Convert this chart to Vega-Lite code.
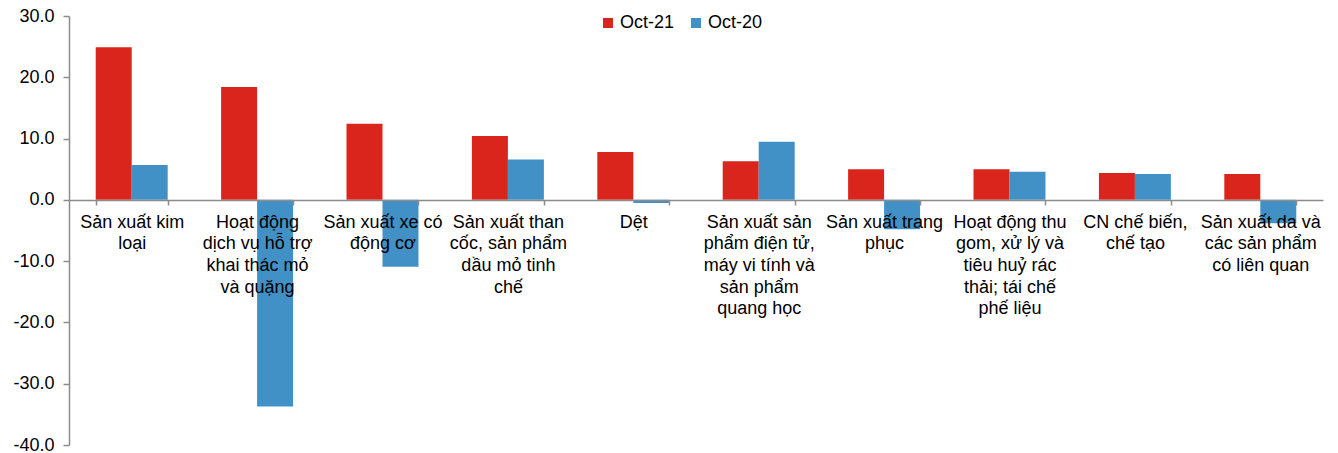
{
  "$schema": "https://vega.github.io/schema/vega-lite/v6.json",
  "width": 1254,
  "height": 429,
  "autosize": {"type": "none"},
  "padding": {"left": 69, "top": 16, "right": 15, "bottom": 8},
  "background": "white",
  "config": {
    "view": {"stroke": null},
    "font": "Liberation Sans",
    "axis": {"grid": false, "domainColor": "#8c8c8c", "tickColor": "#8c8c8c", "domainWidth": 1.5, "tickWidth": 1.5, "labelColor": "#000000", "labelFontSize": 18, "labelFont": "Liberation Sans", "title": null}
  },
  "data": {
    "values": [
      {"industry": "Sản xuất kim\nloại", "period": "Oct-21", "growth": 24.9},
      {"industry": "Sản xuất kim\nloại", "period": "Oct-20", "growth": 5.7},
      {"industry": "Hoạt động\ndịch vụ hỗ trợ\nkhai thác mỏ\nvà quặng", "period": "Oct-21", "growth": 18.4},
      {"industry": "Hoạt động\ndịch vụ hỗ trợ\nkhai thác mỏ\nvà quặng", "period": "Oct-20", "growth": -33.7},
      {"industry": "Sản xuất xe có\nđộng cơ", "period": "Oct-21", "growth": 12.4},
      {"industry": "Sản xuất xe có\nđộng cơ", "period": "Oct-20", "growth": -10.9},
      {"industry": "Sản xuất than\ncốc, sản phẩm\ndầu mỏ tinh\nchế", "period": "Oct-21", "growth": 10.4},
      {"industry": "Sản xuất than\ncốc, sản phẩm\ndầu mỏ tinh\nchế", "period": "Oct-20", "growth": 6.6},
      {"industry": "Dệt", "period": "Oct-21", "growth": 7.8},
      {"industry": "Dệt", "period": "Oct-20", "growth": -0.5},
      {"industry": "Sản xuất sản\nphẩm điện tử,\nmáy vi tính và\nsản phẩm\nquang học", "period": "Oct-21", "growth": 6.3},
      {"industry": "Sản xuất sản\nphẩm điện tử,\nmáy vi tính và\nsản phẩm\nquang học", "period": "Oct-20", "growth": 9.5},
      {"industry": "Sản xuất trang\nphục", "period": "Oct-21", "growth": 5.0},
      {"industry": "Sản xuất trang\nphục", "period": "Oct-20", "growth": -4.8},
      {"industry": "Hoạt động thu\ngom, xử lý và\ntiêu huỷ rác\nthải; tái chế\nphế liệu", "period": "Oct-21", "growth": 5.0},
      {"industry": "Hoạt động thu\ngom, xử lý và\ntiêu huỷ rác\nthải; tái chế\nphế liệu", "period": "Oct-20", "growth": 4.6},
      {"industry": "CN chế biến,\nchế tạo", "period": "Oct-21", "growth": 4.4},
      {"industry": "CN chế biến,\nchế tạo", "period": "Oct-20", "growth": 4.2},
      {"industry": "Sản xuất da và\ncác sản phẩm\ncó liên quan", "period": "Oct-21", "growth": 4.2},
      {"industry": "Sản xuất da và\ncác sản phẩm\ncó liên quan", "period": "Oct-20", "growth": -3.8}
    ]
  },
  "mark": {"type": "bar"},
  "encoding": {
    "x": {
      "field": "industry",
      "type": "nominal",
      "sort": null,
      "scale": {"paddingInner": 0.426, "paddingOuter": 0.213},
      "axis": {
        "orient": "bottom",
        "offset": -245,
        "labelExpr": "split(datum.label, '\\n')",
        "labelAngle": 0,
        "labelAlign": "center",
        "labelBaseline": "top",
        "labelLineHeight": 21.7,
        "labelPadding": 8,
        "labelOverlap": false,
        "labelLimit": 0,
        "labelBound": false,
        "tickBand": "extent",
        "tickSize": 5,
        "zindex": 1
      }
    },
    "xOffset": {"field": "period", "type": "nominal", "sort": ["Oct-21", "Oct-20"]},
    "y": {
      "field": "growth",
      "type": "quantitative",
      "scale": {"domain": [-40, 30], "nice": false, "zero": false},
      "axis": {
        "values": [-40, -30, -20, -10, 0, 10, 20, 30],
        "labelExpr": "datum.value < 0 ? '-' + format(abs(datum.value), '.1f') : format(datum.value, '.1f')",
        "tickSize": 6,
        "labelPadding": 9
      }
    },
    "color": {
      "field": "period",
      "type": "nominal",
      "scale": {"domain": ["Oct-21", "Oct-20"], "range": ["#DA251D", "#4191C6"]},
      "legend": {
        "title": null,
        "orient": "none",
        "legendX": 530,
        "legendY": -2,
        "direction": "horizontal",
        "symbolType": "square",
        "symbolSize": 100,
        "symbolStrokeWidth": 0,
        "labelFontSize": 18,
        "labelColor": "#000000",
        "labelOffset": 3,
        "columnPadding": 12,
        "padding": 0
      }
    }
  }
}
